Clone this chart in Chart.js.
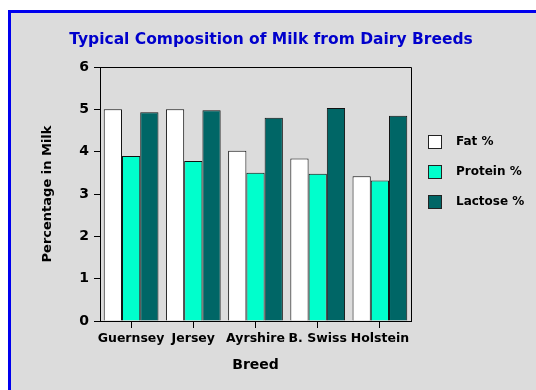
<!DOCTYPE html>
<html>
<head>
<meta charset="utf-8">
<script src="https://cdn.jsdelivr.net/npm/chart.js@4"></script>
<style>
body { margin: 0; background: #fff; overflow: hidden; }
#grafica { display: block; }
</style>
</head>
<body>
<canvas id="grafica" width="536" height="390"></canvas>
<script>
// datos
const breeds = ['Guernsey', 'Jersey', 'Ayrshire', 'B. Swiss', 'Holstein'];
const fatPct = [5.0, 5.0, 4.02, 3.84, 3.42];
const proteinPct = [3.9, 3.78, 3.5, 3.48, 3.32];
const lactosePct = [4.93, 4.98, 4.8, 5.03, 4.85];
const yTicks = [0, 1, 2, 3, 4, 5, 6];
const chartTitle = 'Typical Composition of Milk from Dairy Breeds';

const fuente = "'DejaVu Sans'";

//fondo gris con borde azul
const fondo = {
    id: 'fondo',
    beforeDraw(chart) {
        const ctx = chart.ctx;
        ctx.save();
        ctx.fillStyle = '#ffffff';
        ctx.fillRect(0, 0, chart.width, chart.height);
        ctx.fillStyle = '#dcdcdc';
        ctx.fillRect(8, 10, chart.width - 8, chart.height - 10);
        ctx.fillStyle = '#0000ee';
        ctx.fillRect(8, 10, 3, chart.height - 10);
        ctx.fillRect(8, 10, chart.width - 8, 3);
        ctx.restore();
    }
};

//titulo, marco y leyenda
const textoFijo = {
    id: 'textoFijo',
    afterDraw(chart) {
        const ctx = chart.ctx;
        const area = chart.chartArea;
        ctx.save();
        // marco de la grafica
        ctx.strokeStyle = '#000';
        ctx.lineWidth = 1;
        ctx.beginPath();
        ctx.moveTo(area.left, area.top + 0.5);
        ctx.lineTo(area.right + 0.5, area.top + 0.5);
        ctx.lineTo(area.right + 0.5, area.bottom);
        ctx.stroke();
        // titulo
        ctx.fillStyle = '#0000cc';
        ctx.font = 'bold 15.5px ' + fuente;
        ctx.textAlign = 'center';
        ctx.textBaseline = 'alphabetic';
        ctx.fillText(chartTitle, 271, 44);
        // leyenda
        ctx.font = 'bold 12px ' + fuente;
        ctx.textAlign = 'left';
        ctx.textBaseline = 'middle';
        chart.data.datasets.forEach(function(ds, i) {
            var x = area.right + 17;
            var y = 135 + i * 30;
            ctx.fillStyle = ds.backgroundColor;
            ctx.fillRect(x, y, 13, 13);
            ctx.strokeStyle = '#222';
            ctx.strokeRect(x + 0.5, y + 0.5, 13, 13);
            ctx.fillStyle = '#000';
            ctx.fillText(ds.label, x + 28, y + 7);
        });
        ctx.restore();
    }
};

const grafica = document.getElementById('grafica').getContext('2d');
let config_grafica = {
    type: 'bar',
    data: {
        labels: breeds,
        datasets: [{
            label: 'Fat %',
            data: fatPct,
            backgroundColor: '#ffffff',
            borderColor: '#111111',
            borderWidth: 1
        }, {
            label: 'Protein %',
            data: proteinPct,
            backgroundColor: '#00ffcc',
            borderColor: '#111111',
            borderWidth: 1
        }, {
            label: 'Lactose %',
            data: lactosePct,
            backgroundColor: '#006666',
            borderColor: '#111111',
            borderWidth: 1
        }]
    },
    options: {
        responsive: false,
        animation: false,
        layout: {
            padding: { top: 67, right: 125, left: 0, bottom: 0 }
        },
        datasets: {
            bar: {
                categoryPercentage: 0.88,
                barPercentage: 1.0
            }
        },
        scales: {
            x: {
                afterFit: function(s) { s.height = 69; },
                grid: {
                    offset: false,
                    drawOnChartArea: false,
                    tickLength: 7,
                    tickColor: '#000'
                },
                border: { color: '#000', width: 1 },
                ticks: {
                    autoSkip: false,
                    maxRotation: 0,
                    padding: 3,
                    color: '#000',
                    font: { family: fuente, weight: 'bold', size: 12.5 }
                },
                title: {
                    display: true,
                    text: 'Breed',
                    color: '#000',
                    padding: { top: 0, bottom: 16 },
                    font: { family: fuente, weight: 'bold', size: 14 }
                }
            },
            y: {
                min: 0,
                max: 6,
                afterFit: function(s) { s.width = 100; },
                afterBuildTicks: function(s) {
                    s.ticks = yTicks.map(v => ({ value: v }));
                },
                grid: {
                    drawOnChartArea: false,
                    tickLength: 6,
                    tickColor: '#000'
                },
                border: { color: '#000', width: 1 },
                ticks: {
                    padding: 5,
                    color: '#000',
                    font: { family: fuente, weight: 'bold', size: 14 }
                },
                title: {
                    display: true,
                    text: 'Percentage in Milk',
                    color: '#000',
                    padding: { top: 40, bottom: 0 },
                    font: { family: fuente, weight: 'bold', size: 13 }
                }
            }
        },
        plugins: {
            legend: { display: false },
            title: { display: false },
            tooltip: { enabled: false }
        }
    },
    plugins: [fondo, textoFijo]
};
const graficaChart = new Chart(grafica, config_grafica);
</script>
</body>
</html>
